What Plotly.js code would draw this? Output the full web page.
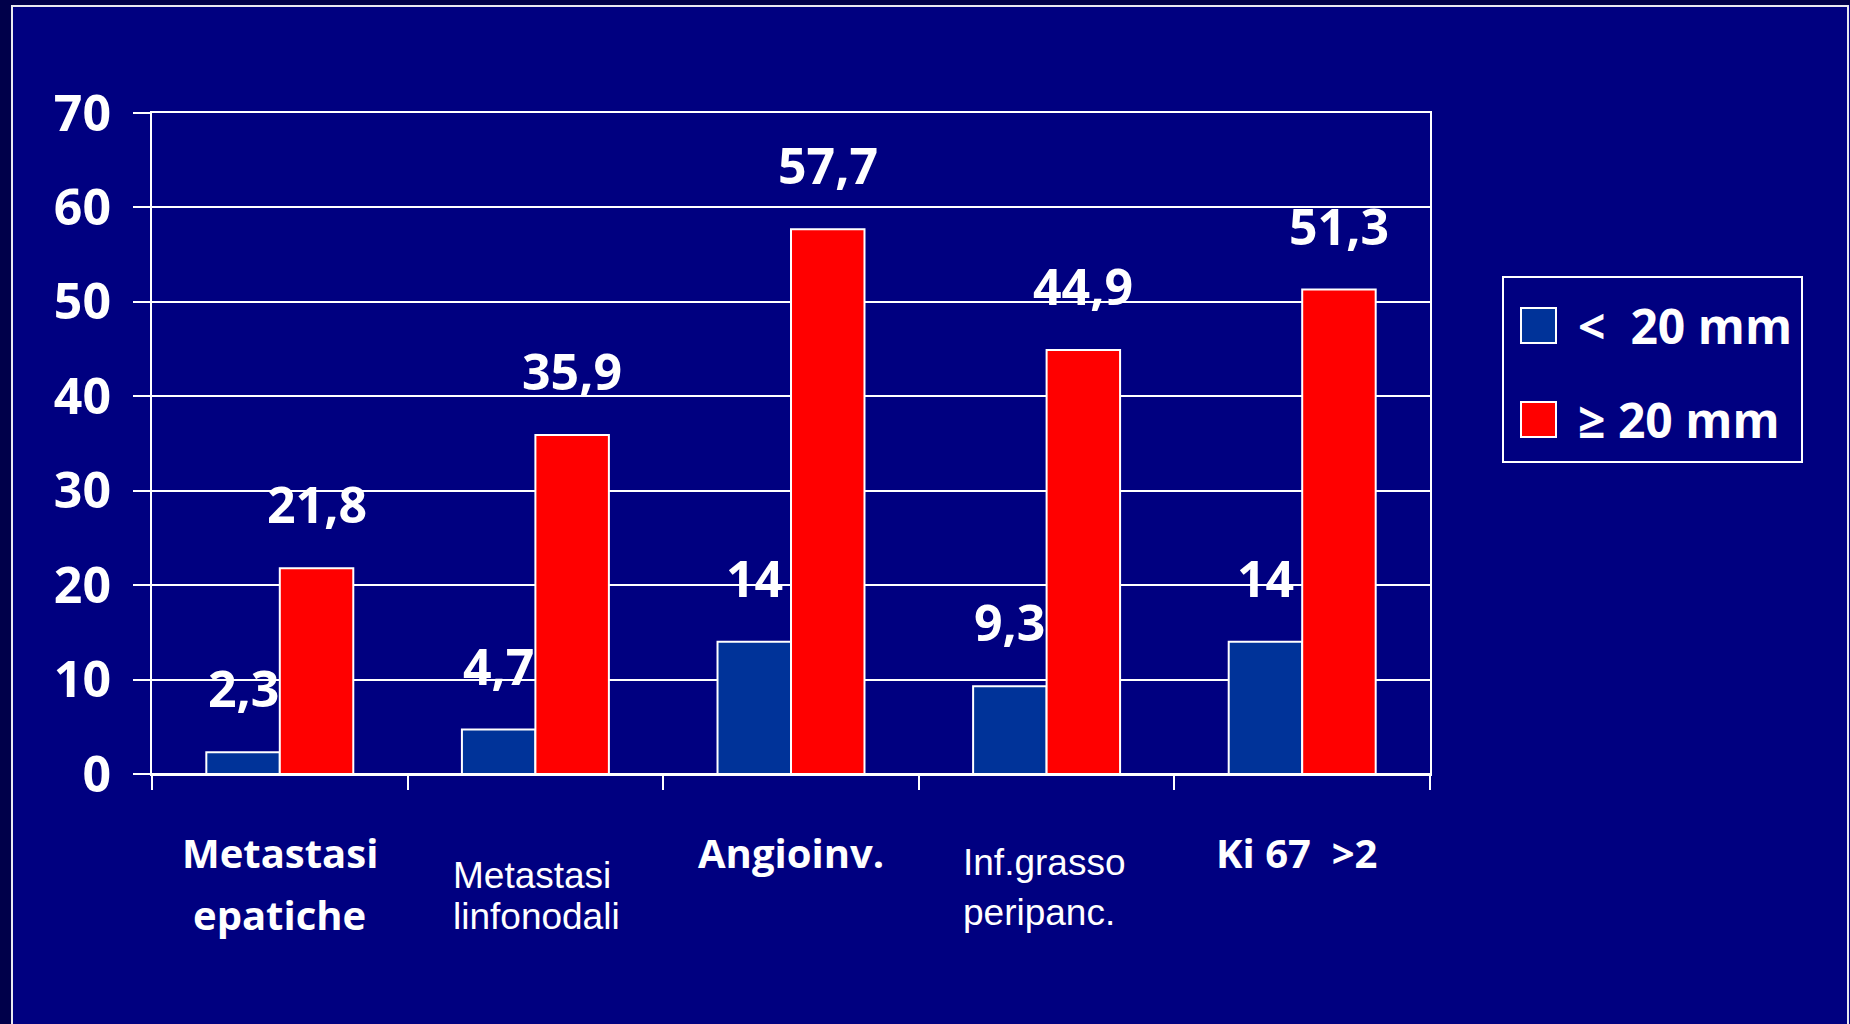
<!DOCTYPE html>
<html>
<head>
<meta charset="utf-8">
<script src="https://cdn.plot.ly/plotly-3.0.1.min.js"></script>
<style>
  html, body { margin: 0; padding: 0; background: #000080; }
  #chart { width: 1850px; height: 1024px; }
</style>
</head>
<body>
<div id="chart"></div>
<script>
// Tumour-size comparison: percentages per pathological feature
const categories = ['Metastasi epatiche', 'Metastasi linfonodali', 'Angioinv.', 'Inf.grasso peripanc.', 'Ki 67 >2'];
const categoryLabels = ['Metastasi<br>epatiche', 'Metastasi<br>linfonodali', 'Angioinv.', 'Inf.grasso<br>peripanc.', 'Ki 67  >2'];
const seriesNames = ['<  20 mm', '≥ 20 mm'];
const smallTumours = [2.3, 4.7, 14, 9.3, 14];
const largeTumours = [21.8, 35.9, 57.7, 44.9, 51.3];
const yTickValues = [0, 10, 20, 30, 40, 50, 60, 70];

const seriesValues = [smallTumours, largeTumours];
const seriesColors = ['#003399', '#FF0000'];

// Page geometry (pixels)
const W = 1850, H = 1024;
const M = { l: 152, r: 420, t: 113, b: 250 };
const plotW = W - M.l - M.r, plotH = H - M.t - M.b;
const px = x => (x - M.l) / plotW;             // page x -> paper x
const py = y => (H - M.b - y) / plotH;          // page y -> paper y

const ROUND = 'Open Sans';
const PLAIN = 'Liberation Sans, Arial, sans-serif';
const white = '#FFFFFF';

// Decimal comma, as used in the labels
const fmt = v => String(v).replace('.', ',');

const bargap = 0.425;
const barHalfPx = (1 - bargap) / 2 * (plotW / categories.length) / 2;

const traces = seriesValues.map((vals, s) => ({
  type: 'bar',
  name: seriesNames[s],
  x: categories,
  y: vals,
  marker: { color: seriesColors[s], line: { color: white, width: 2 } },
  showlegend: false,
  hoverinfo: 'x+y'
}));

const annotations = [];

// Value labels above each bar
seriesValues.forEach((vals, s) => {
  vals.forEach((v, i) => {
    annotations.push({
      x: categories[i], y: v, xref: 'x', yref: 'y',
      xshift: (s === 0 ? -1 : 1) * barHalfPx, yshift: 28,
      text: fmt(v), showarrow: false,
      xanchor: 'center', yanchor: 'bottom',
      font: { family: ROUND, size: 50, color: white, weight: 700 }
    });
  });
});

// Category labels under the axis (mixed typefaces, one annotation per line)
const labelStyle = [
  { family: ROUND, size: 40, weight: 700, anchor: 'center', dx: 0,   lines: [852, 914] },
  { family: PLAIN, size: 37, weight: 400, anchor: 'left',   dx: -84, lines: [875, 917] },
  { family: ROUND, size: 40, weight: 700, anchor: 'center', dx: 0,   lines: [852] },
  { family: PLAIN, size: 37, weight: 400, anchor: 'left',   dx: -86, lines: [862, 912] },
  { family: ROUND, size: 40, weight: 700, anchor: 'center', dx: -6,  lines: [852] }
];
categoryLabels.forEach((label, i) => {
  const st = labelStyle[i];
  label.split('<br>').forEach((line, k) => {
    annotations.push({
      x: categories[i], xref: 'x', xshift: st.dx,
      y: py(st.lines[k]), yref: 'paper',
      text: line, showarrow: false,
      xanchor: st.anchor, yanchor: 'middle',
      font: { family: st.family, size: st.size, color: white, weight: st.weight }
    });
  });
});

// Legend drawn as a boxed key
const shapes = [];
const legendBox = { x0: 1503, x1: 1802, y0: 277, y1: 462 };
shapes.push({
  type: 'rect', xref: 'paper', yref: 'paper',
  x0: px(legendBox.x0), x1: px(legendBox.x1), y0: py(legendBox.y1), y1: py(legendBox.y0),
  line: { color: white, width: 2 }, fillcolor: 'rgba(0,0,0,0)'
});
const keyRows = [308, 402];
seriesNames.forEach((name, s) => {
  const top = keyRows[s];
  shapes.push({
    type: 'rect', xref: 'paper', yref: 'paper',
    x0: px(1521), x1: px(1556), y0: py(top + 35), y1: py(top),
    line: { color: white, width: 2 }, fillcolor: seriesColors[s]
  });
  annotations.push({
    x: px(1576), y: py(top + 17.5), xref: 'paper', yref: 'paper',
    text: name, showarrow: false, xanchor: 'left', yanchor: 'middle',
    font: { family: ROUND, size: 48, color: white, weight: 700 }
  });
});

// Slide frame: dark edge strips and a thin white border
shapes.push({ type: 'rect', xref: 'paper', yref: 'paper', layer: 'below',
  x0: px(-5), x1: px(11), y0: py(H + 5), y1: py(-5), line: { width: 0 }, fillcolor: '#00004A' });
shapes.push({ type: 'rect', xref: 'paper', yref: 'paper', layer: 'below',
  x0: px(-5), x1: px(W + 5), y0: py(5), y1: py(-5), line: { width: 0 }, fillcolor: '#00004A' });
shapes.push({ type: 'rect', xref: 'paper', yref: 'paper',
  x0: px(12), x1: px(1848), y0: py(H + 10), y1: py(6),
  line: { color: '#E8E8F0', width: 2 }, fillcolor: 'rgba(0,0,0,0)' });

const layout = {
  width: W, height: H,
  margin: M,
  paper_bgcolor: '#000080',
  plot_bgcolor: '#000080',
  barmode: 'group',
  bargap: bargap,
  bargroupgap: 0,
  showlegend: false,
  xaxis: {
    type: 'category',
    range: [-0.5, categories.length - 0.5],
    tickson: 'boundaries',
    ticks: 'outside', ticklen: 14, tickwidth: 2, tickcolor: white,
    showticklabels: false,
    showgrid: false,
    showline: true, mirror: true, linecolor: white, linewidth: 2,
    fixedrange: true
  },
  yaxis: {
    range: [0, 70],
    tickvals: yTickValues,
    ticks: 'outside', ticklen: 17, tickwidth: 2, tickcolor: white,
    ticklabelstandoff: 12,
    tickfont: { family: ROUND, size: 50, color: white, weight: 700 },
    showgrid: true, gridcolor: white, gridwidth: 2,
    zeroline: true, zerolinecolor: white, zerolinewidth: 2,
    showline: true, mirror: true, linecolor: white, linewidth: 2,
    fixedrange: true
  },
  annotations: annotations,
  shapes: shapes
};

Plotly.newPlot('chart', traces, layout, { displayModeBar: false, staticPlot: true });
</script>
</body>
</html>
